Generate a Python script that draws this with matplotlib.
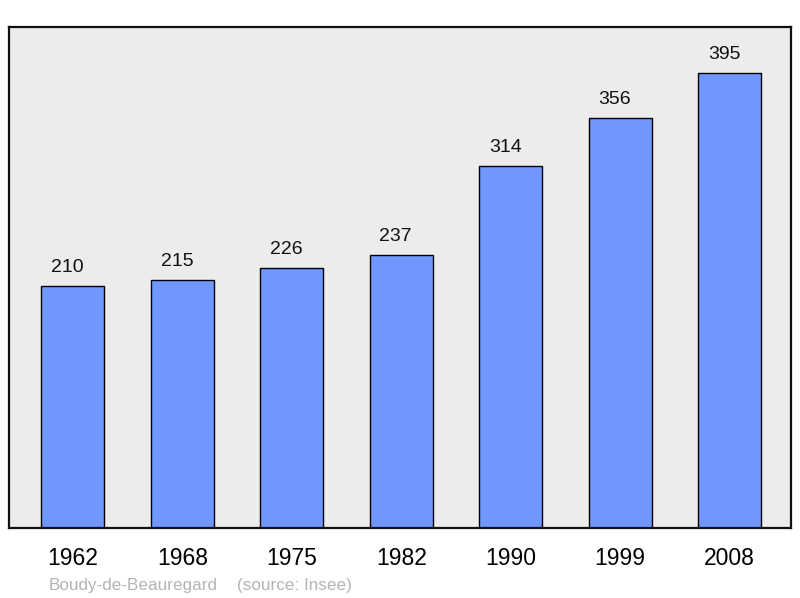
import matplotlib
matplotlib.use("Agg")
import matplotlib.pyplot as plt

years = ["1962", "1968", "1975", "1982", "1990", "1999", "2008"]
population = [210, 215, 226, 237, 314, 356, 395]
commune = "Boudy-de-Beauregard"
source = "(source: Insee)"

plt.rcParams["font.family"] = ["Liberation Sans", "DejaVu Sans"]

fig = plt.figure(figsize=(8, 5.98), dpi=100)
ax = fig.add_axes([9 / 800, 70 / 598, 782 / 800, 501 / 598])
ax.set_facecolor("#ececec")

x = list(range(len(years)))
bars = ax.bar(x, population, width=0.575, color="#7096ff",
              edgecolor="black", linewidth=1.0, zorder=2)

# value labels sit a little left of the bar centre, as in the original
for xi, v in zip(x, population):
    ax.annotate(str(v), (xi, v), xytext=(-4, 10), textcoords="offset points",
                ha="center", va="baseline", fontsize=14, color="#111111")

ax.set_xlim(-0.584, 6.56)
ax.set_ylim(0, 435)
ax.set_xticks(x)
ax.set_xticklabels(years, fontsize=16.5)
ax.tick_params(axis="x", length=0, pad=14)
ax.set_yticks([])
for s in ax.spines.values():
    s.set_linewidth(1.6)
    s.set_color("#111111")

fig.text(49 / 800, 1 - 590 / 598, commune,
         fontsize=12.3, color="#b4b4b4", va="baseline", ha="left")
fig.text(237 / 800, 1 - 590 / 598, source,
         fontsize=12.3, color="#b4b4b4", va="baseline", ha="left")

fig.savefig("out.png", dpi=100)
